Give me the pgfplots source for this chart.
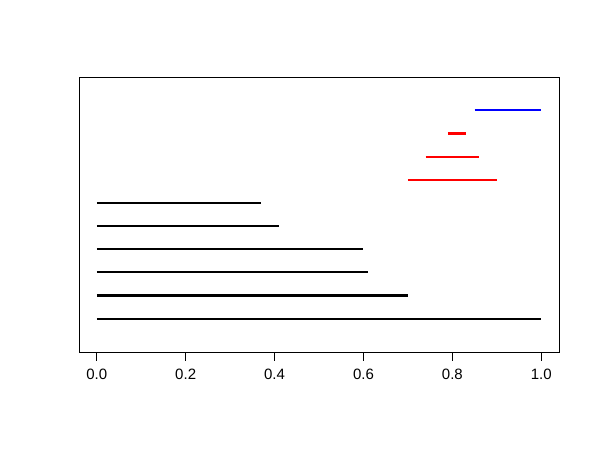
\documentclass[border=0pt]{standalone}
\usepackage{fontspec}
\setmainfont{Liberation Sans}
\usepackage{pgfplots}
\pgfplotsset{compat=1.18}
\begin{document}
\fontsize{15bp}{18bp}\selectfont
\begin{tikzpicture}
\path (0,0) rectangle (600bp,450bp);
\begin{axis}[
  at={(79bp,98bp)}, anchor=south west,
  scale only axis, width=480bp, height=275bp,
  xmin=-0.04, xmax=1.04, ymin=-0.44, ymax=11.44,
  axis line style={line width=0.9bp},
  ytick=\empty,
  xtick={0,0.2,0.4,0.6,0.8,1.0},
  xticklabels={0.0,0.2,0.4,0.6,0.8,1.0},
  xtick pos=bottom, tick align=outside,
  major tick length=9bp,
  tick style={line width=0.9bp, black},
  xticklabel style={font=\fontsize{15bp}{18bp}\selectfont, yshift=-3bp},
  /pgf/number format/assume math mode=true,
  every axis plot/.append style={line width=2.2bp, no marks},
]
\addplot[black] coordinates {(0,1) (1.0,1)};
\addplot[black] coordinates {(0,2) (0.70,2)};
\addplot[black] coordinates {(0,3) (0.61,3)};
\addplot[black] coordinates {(0,4) (0.60,4)};
\addplot[black] coordinates {(0,5) (0.41,5)};
\addplot[black] coordinates {(0,6) (0.37,6)};
\addplot[red] coordinates {(0.70,7) (0.90,7)};
\addplot[red] coordinates {(0.74,8) (0.86,8)};
\addplot[red] coordinates {(0.79,9) (0.83,9)};
\addplot[blue] coordinates {(0.85,10) (1.0,10)};
\end{axis}
\end{tikzpicture}
\end{document}
